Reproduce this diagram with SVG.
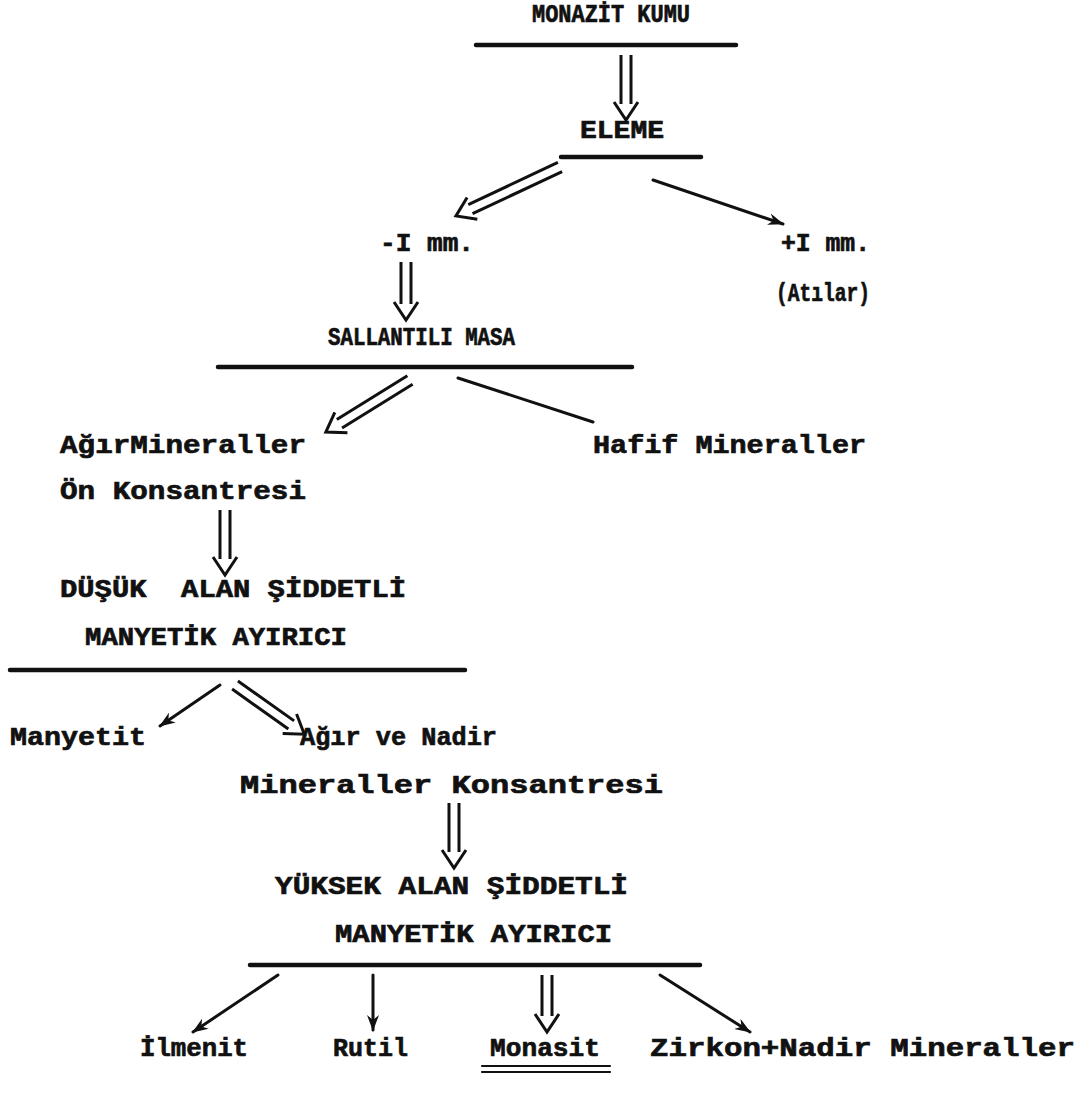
<svg xmlns="http://www.w3.org/2000/svg" width="1091" height="1098" viewBox="0 0 1091 1098">
<style>
.t{font-family:"Liberation Mono","DejaVu Sans Mono",monospace;font-weight:bold;font-size:26px;fill:#111;stroke:#111;stroke-width:0.7}
.bar{stroke:#111;stroke-width:4.5;stroke-linecap:round}
.ln{stroke:#111;stroke-width:3;fill:none;stroke-linecap:round}
.dbl{stroke:#111;stroke-width:3;fill:none;stroke-linejoin:miter}
</style>
<defs>
<marker id="ah" viewBox="0 0 16 12" refX="15" refY="6" markerWidth="16" markerHeight="12" markerUnits="userSpaceOnUse" orient="auto">
<path d="M0,0 L16,6 L0,12 L5,6 Z" fill="#111"/>
</marker>
</defs>
<rect width="1091" height="1098" fill="#fff"/>
<g id="nodes">
<g id="n-monazit-kumu"><text class="t" x="532" y="22" textLength="158" lengthAdjust="spacingAndGlyphs">MONAZİT KUMU</text><line class="bar" x1="476" y1="45" x2="736" y2="45"/></g>
<g id="n-eleme"><text class="t" x="580" y="138" textLength="84" lengthAdjust="spacingAndGlyphs">ELEME</text><line class="bar" x1="561" y1="157" x2="701" y2="157"/></g>
<g id="n-minus"><text class="t" x="380" y="251" textLength="94" lengthAdjust="spacingAndGlyphs">-I mm.</text></g>
<g id="n-plus"><text class="t" x="781" y="251" textLength="89" lengthAdjust="spacingAndGlyphs">+I mm.</text><text class="t" x="776" y="301" textLength="94" lengthAdjust="spacingAndGlyphs">(Atılar)</text></g>
<g id="n-masa"><text class="t" x="328" y="345" textLength="187" lengthAdjust="spacingAndGlyphs">SALLANTILI MASA</text><line class="bar" x1="218" y1="367" x2="632" y2="367"/></g>
<g id="n-agir"><text class="t" x="60" y="453" textLength="246" lengthAdjust="spacingAndGlyphs">AğırMineraller</text><text class="t" x="60" y="499" textLength="246" lengthAdjust="spacingAndGlyphs">Ön Konsantresi</text></g>
<g id="n-hafif"><text class="t" x="593" y="453" textLength="273" lengthAdjust="spacingAndGlyphs">Hafif Mineraller</text></g>
<g id="n-dusuk"><text class="t" x="60" y="597" textLength="346" lengthAdjust="spacingAndGlyphs" xml:space="preserve">DÜŞÜK  ALAN ŞİDDETLİ</text><text class="t" x="85" y="645" textLength="262" lengthAdjust="spacingAndGlyphs">MANYETİK AYIRICI</text><line class="bar" x1="10" y1="670" x2="465" y2="670"/></g>
<g id="n-manyetit"><text class="t" x="10" y="745" textLength="136" lengthAdjust="spacingAndGlyphs">Manyetit</text></g>
<g id="n-agir-nadir"><text class="t" x="300" y="745" textLength="197" lengthAdjust="spacingAndGlyphs">Ağır ve Nadir</text><text class="t" x="240" y="793" textLength="423" lengthAdjust="spacingAndGlyphs">Mineraller Konsantresi</text></g>
<g id="n-yuksek"><text class="t" x="275" y="894" textLength="353" lengthAdjust="spacingAndGlyphs">YÜKSEK ALAN ŞİDDETLİ</text><text class="t" x="335" y="942" textLength="277" lengthAdjust="spacingAndGlyphs">MANYETİK AYIRICI</text><line class="bar" x1="250" y1="965" x2="700" y2="965"/></g>
<g id="n-ilmenit"><text class="t" x="140" y="1056" textLength="108" lengthAdjust="spacingAndGlyphs">İlmenit</text></g>
<g id="n-rutil"><text class="t" x="333" y="1056" textLength="75" lengthAdjust="spacingAndGlyphs">Rutil</text></g>
<g id="n-monasit"><text class="t" x="490" y="1056" textLength="110" lengthAdjust="spacingAndGlyphs">Monasit</text><line class="ln" x1="482" y1="1066" x2="610" y2="1066" style="stroke-width:2.2"/><line class="ln" x1="482" y1="1072" x2="610" y2="1072" style="stroke-width:2.2"/></g>
<g id="n-zirkon"><text class="t" x="650" y="1056" textLength="425" lengthAdjust="spacingAndGlyphs">Zirkon+Nadir Mineraller</text></g>
</g>
<g id="connectors">
<path class="dbl" d="M621,55 V104 M631,55 V104 M614,102 L626,120 L638,102"/>
<g transform="translate(560,167) rotate(64.8)"><path class="dbl" d="M-5,0 V99 M5,0 V99 M-12,97 L0,115 L12,97"/></g>
<line class="ln" x1="653" y1="180" x2="783" y2="224" marker-end="url(#ah)"/>
<path class="dbl" d="M401,262 V304 M411,262 V304 M394,302 L406,320 L418,302"/>
<g transform="translate(410,380) rotate(58.24)"><path class="dbl" d="M-5,0 V83 M5,0 V83 M-12,81 L0,99 L12,81"/></g>
<line class="ln" x1="458" y1="378" x2="593" y2="422"/>
<path class="dbl" d="M220,510 V559 M230,510 V559 M213,557 L225,575 L237,557"/>
<line class="ln" x1="220" y1="685" x2="160" y2="726" marker-end="url(#ah)"/>
<g transform="translate(235,685) rotate(-54.6)"><path class="dbl" d="M-5,0 V69 M5,0 V69 M-12,67 L0,85 L12,67"/></g>
<path class="dbl" d="M449,803 V852 M459,803 V852 M442,850 L454,868 L466,850"/>
<line class="ln" x1="278" y1="975" x2="193" y2="1032" marker-end="url(#ah)"/>
<line class="ln" x1="373" y1="975" x2="373" y2="1030" marker-end="url(#ah)"/>
<path class="dbl" d="M542,975 V1016 M552,975 V1016 M535,1014 L547,1032 L559,1014"/>
<line class="ln" x1="660" y1="975" x2="750" y2="1032" marker-end="url(#ah)"/>
</g>
</svg>
